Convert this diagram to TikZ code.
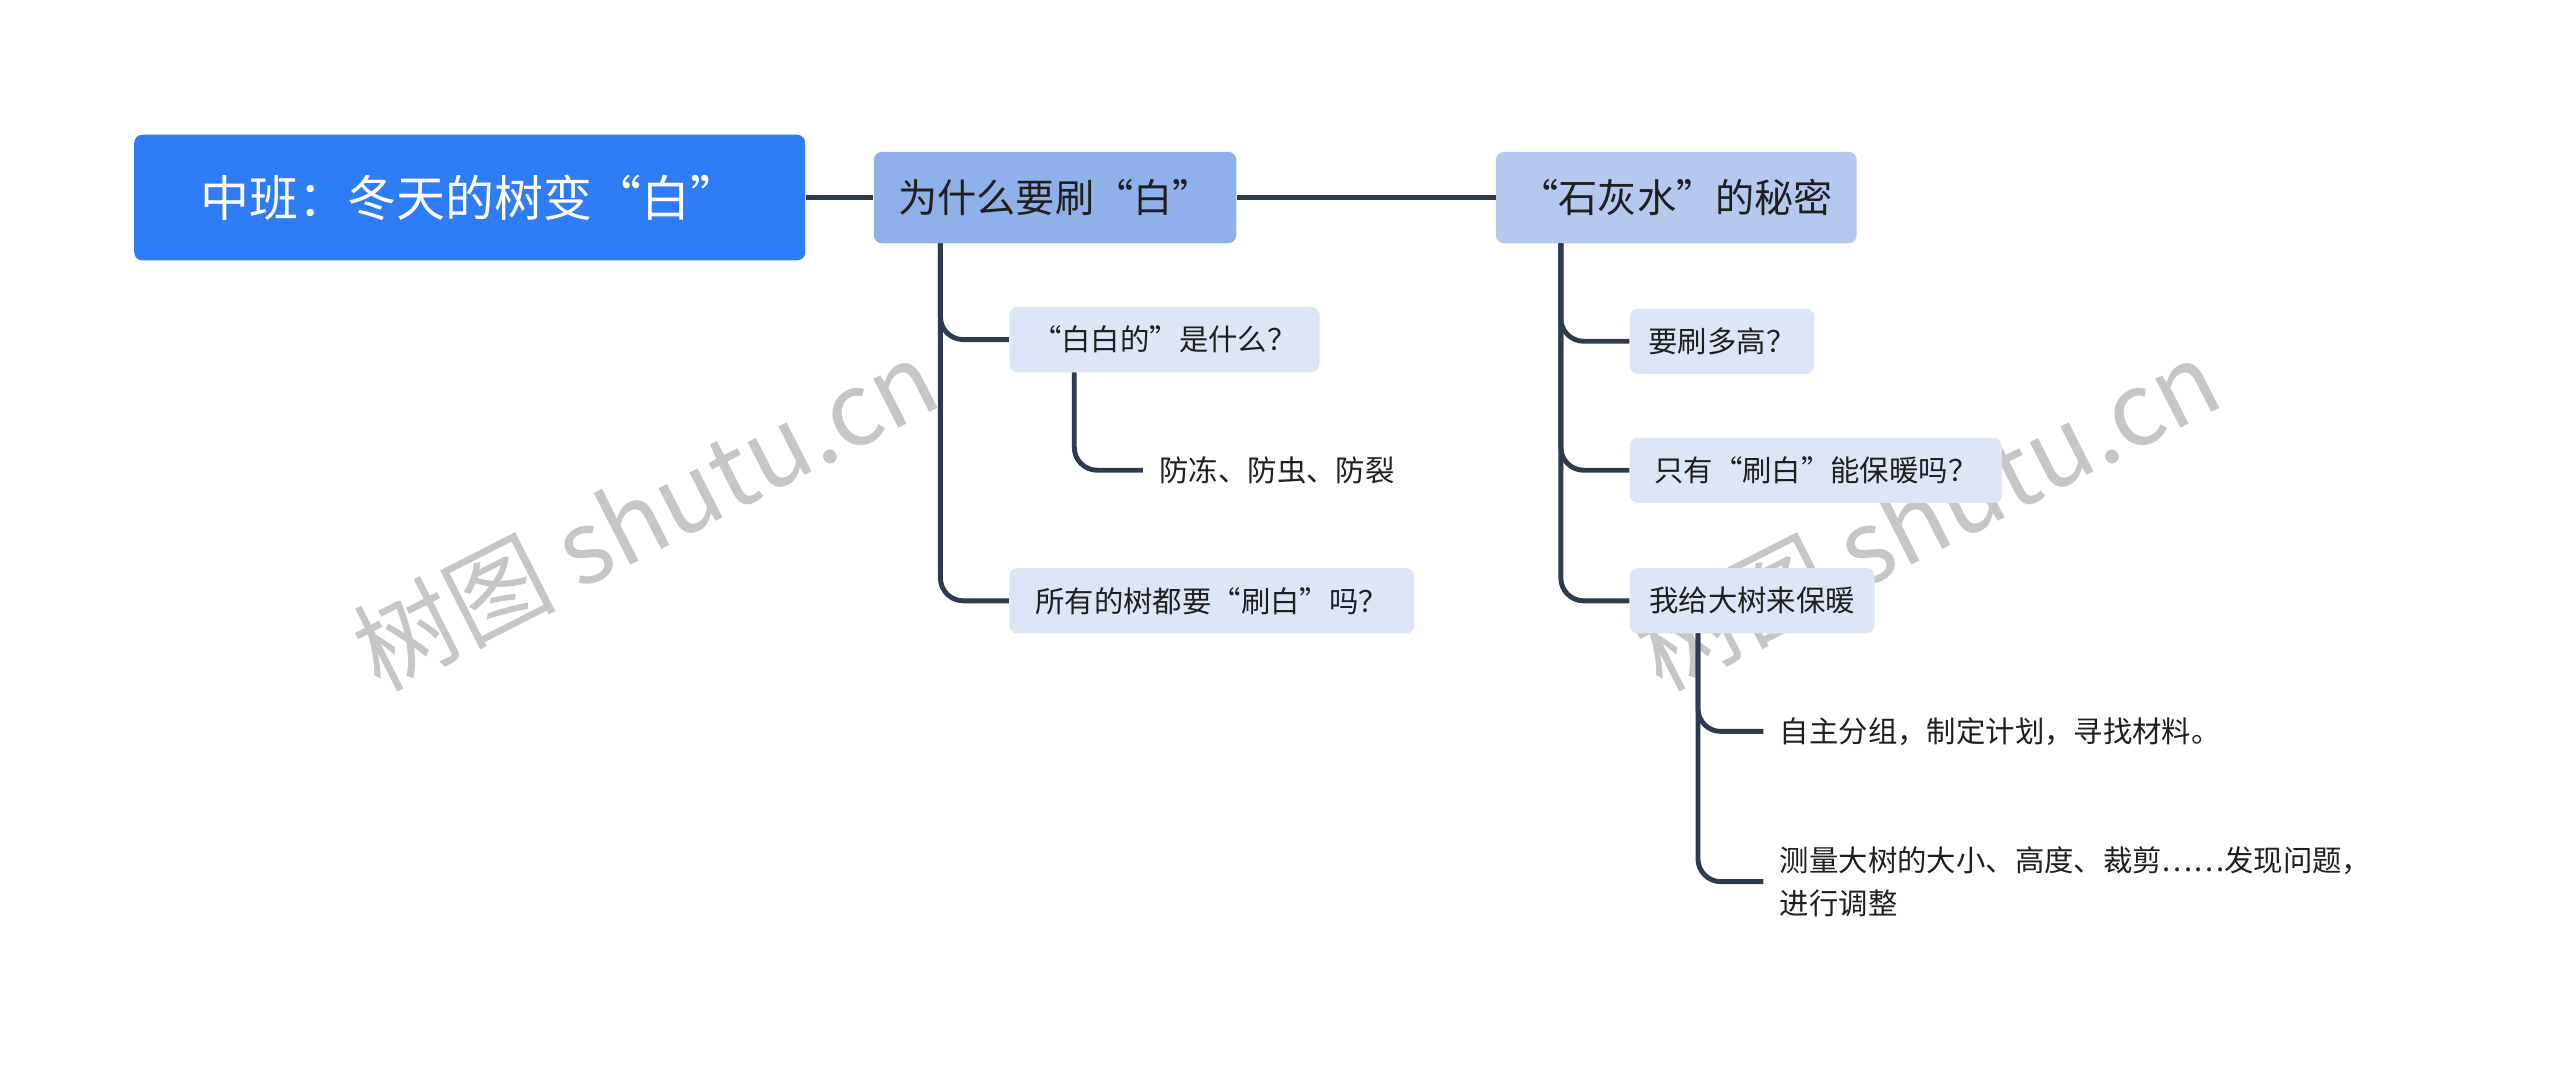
\documentclass[tikz,border=0pt]{standalone}
\usepackage{fontspec}
\newfontfamily\cjk{Noto Sans CJK SC}
\newfontfamily\wmfont{Noto Sans CJK SC}
\begin{document}
\begin{tikzpicture}[x=1pt,y=-1pt,
  conn/.style={draw=lineC,line width=3pt,rounded corners=14pt},
  rootbox/.style={fill=rootC,rounded corners=5pt,text=white,font=\cjk\fontsize{30}{36}\selectfont,minimum height=77pt,inner sep=0pt,anchor=west},
  lonebox/.style={rounded corners=5pt,text=textC,font=\cjk\fontsize{24}{30}\selectfont,minimum height=56pt,inner sep=0pt,anchor=west},
  leafbox/.style={fill=leafC,rounded corners=5pt,text=textC,font=\cjk\fontsize{18}{22}\selectfont,minimum height=40pt,inner sep=0pt,anchor=west},
  plain/.style={text=textC,font=\cjk\fontsize{18}{26}\selectfont,inner sep=0pt,anchor=west,align=left}]
\definecolor{lineC}{HTML}{2E3A4D}
\definecolor{rootC}{HTML}{2E7CF6}
\definecolor{aC}{HTML}{8FB0E8}
\definecolor{bC}{HTML}{B5C9EF}
\definecolor{leafC}{HTML}{DCE6F7}
\definecolor{textC}{HTML}{1F1F1F}
\path[use as bounding box] (0,0) rectangle (1568,657);
\fill[white] (0,0) rectangle (1568,657);
% watermark
\node[text=gray!45,font=\wmfont\fontsize{62}{70}\selectfont,rotate=27] (wm1) at (395,315) {树图 shutu.cn};
\node[text=gray!45,font=\wmfont\fontsize{62}{70}\selectfont,rotate=27] (wm2) at (1180,315) {树图 shutu.cn};
% nodes
\node[rootbox,minimum width=411pt] (root) at (82,121) {中班：冬天的树变“白”};
\node[lonebox,fill=aC,minimum width=222pt] (a) at (535,121) {为什么要刷“白”};
\node[lonebox,fill=bC,minimum width=221pt] (b) at (916,121) {“石灰水”的秘密};
\node[leafbox,minimum width=190pt] (a1) at (618,208) {“白白的”是什么？};
\node[plain] (a11) at (710,288) {防冻、防虫、防裂};
\node[leafbox,minimum width=248pt] (a2) at (618,368) {所有的树都要“刷白”吗？};
\node[leafbox,minimum width=113pt] (b1) at (998,209) {要刷多高？};
\node[leafbox,minimum width=228pt] (b2) at (998,288) {只有“刷白”能保暖吗？};
\node[leafbox,minimum width=150pt] (b3) at (998,368) {我给大树来保暖};
\node[plain] (b31) at (1090,448) {自主分组，制定计划，寻找材料。};
\node[plain] (b32) at (1090,540) {测量大树的大小、高度、裁剪……发现问题，\\进行调整};
% connectors
\draw[conn] (root.east) -- (a.west);
\draw[conn] (a.east) -- (b.west);
\coordinate (ta) at (576,149);
\coordinate (taa) at (658,228);
\coordinate (tb) at (956,149);
\coordinate (tbb) at (1040,388);
\draw[conn] (ta) |- (a1.west);
\draw[conn] (ta) |- (a2.west);
\draw[conn] (taa) |- ([xshift=-10pt]a11.west);
\draw[conn] (tb) |- (b1.west);
\draw[conn] (tb) |- (b2.west);
\draw[conn] (tb) |- (b3.west);
\draw[conn] (tbb) |- ([xshift=-10pt]b31.west);
\draw[conn] (tbb) |- ([xshift=-10pt]b32.west);
\end{tikzpicture}
\end{document}
